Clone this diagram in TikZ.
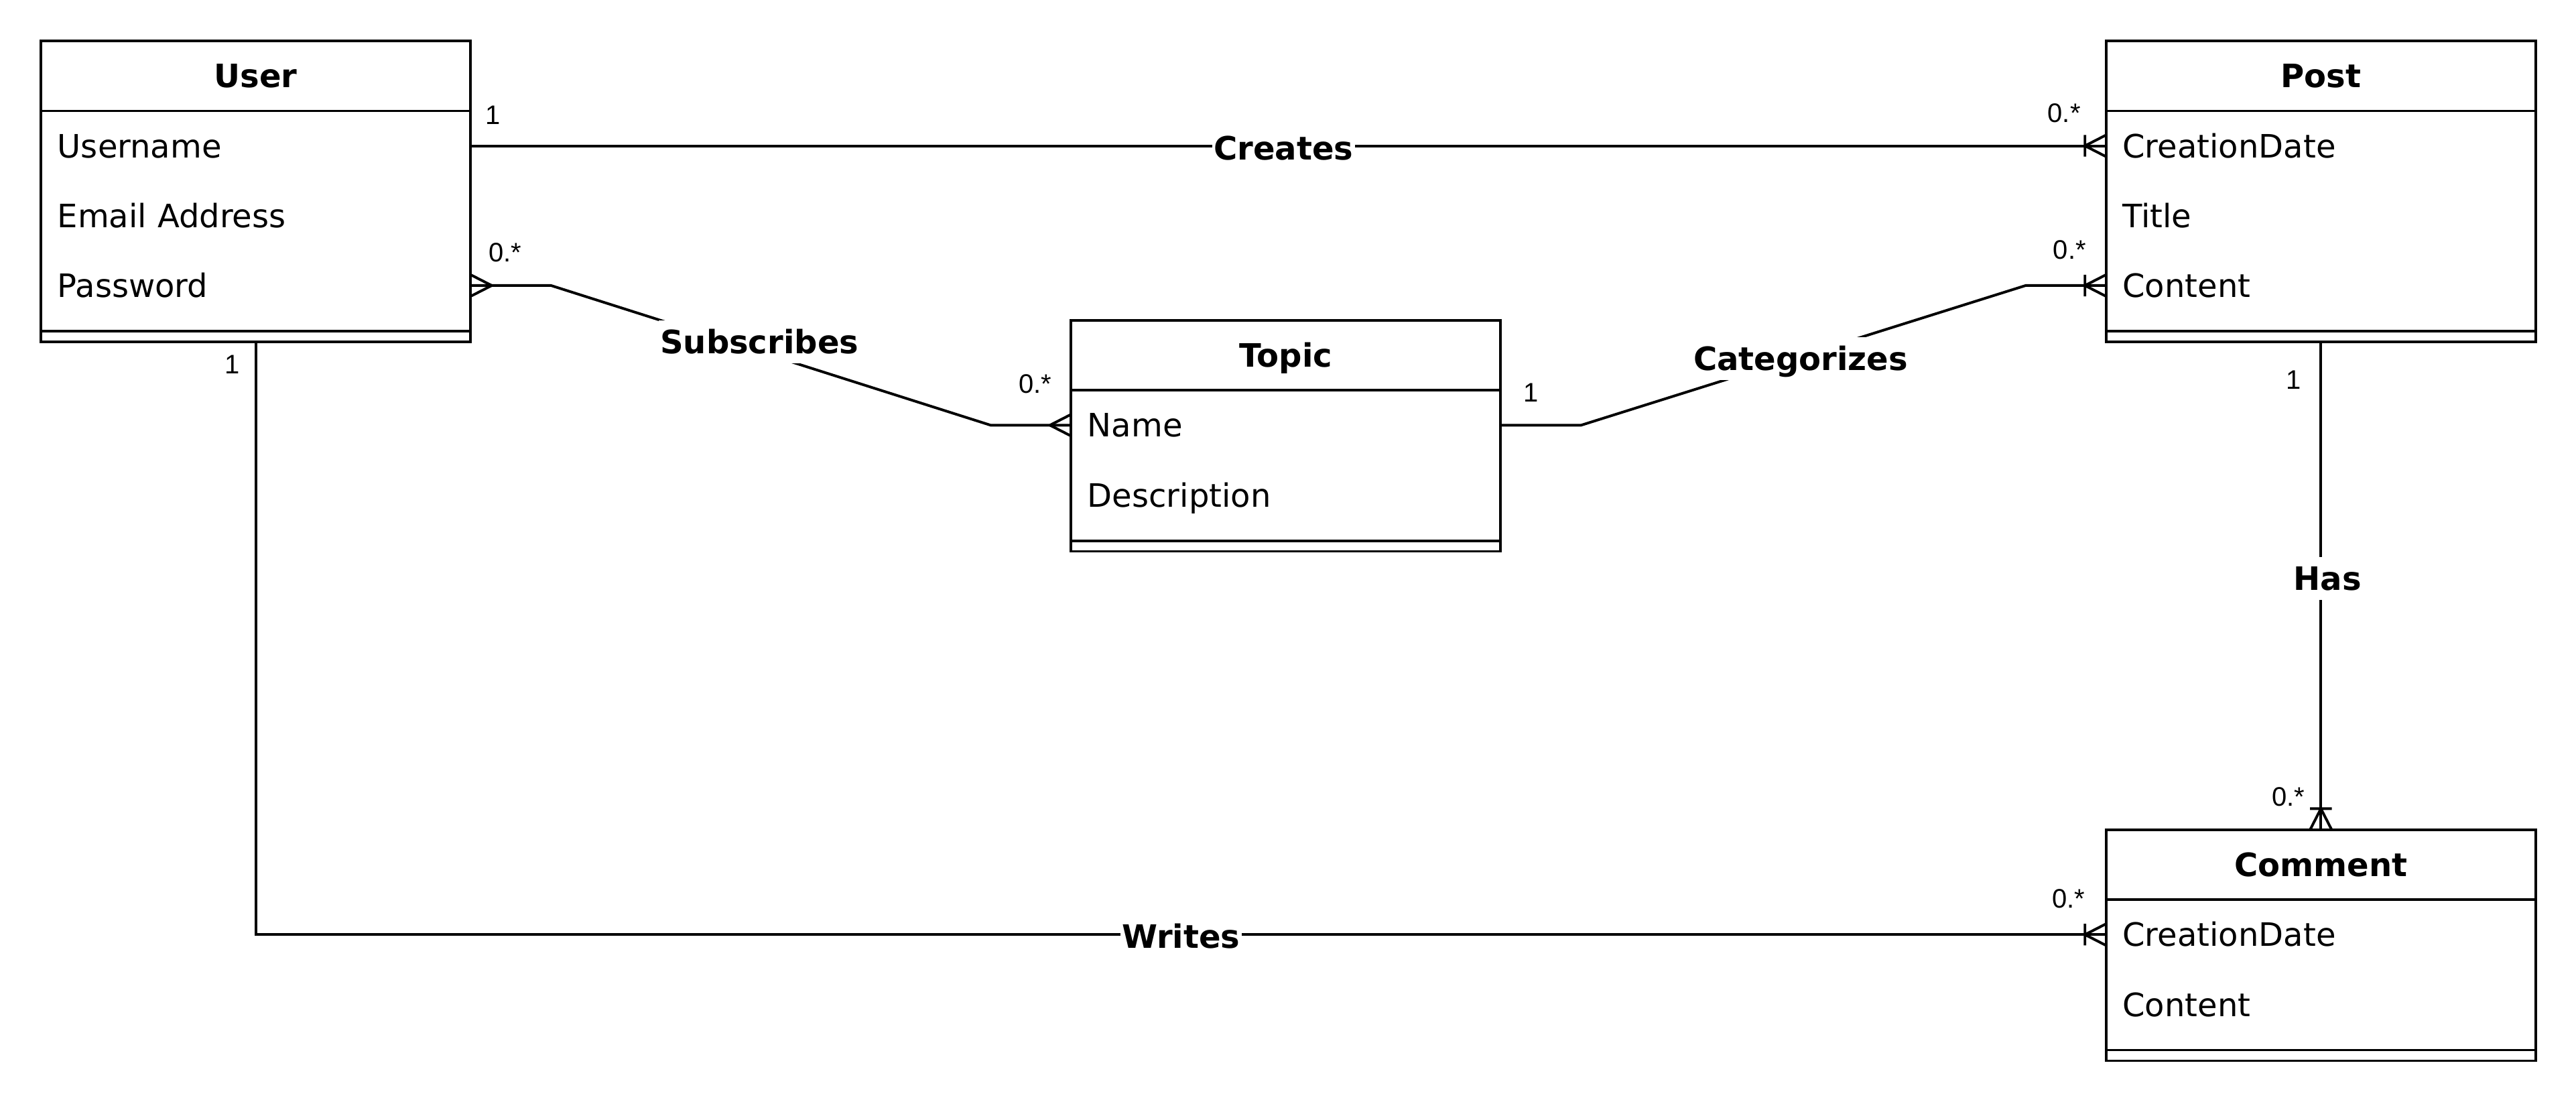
\documentclass[tikz,border=0pt]{standalone}
\usepackage{fontspec}
\setmainfont{DejaVu Sans}
\newfontfamily\multfont{Liberation Sans}
\usetikzlibrary{calc}
\tikzset{
  boxline/.style={line width=1.6pt},
  entbox/.style={draw, line width=1.6pt, anchor=north west, minimum width=261.4pt, inner sep=0pt, outer sep=0pt, fill=white},
  etitle/.style={font=\fontsize{19.6pt}{23pt}\selectfont\bfseries, anchor=center, inner sep=0pt, outer sep=0pt, text height=18.3pt, text depth=4pt},
  erow/.style={anchor=west, minimum width=261.4pt, minimum height=42.5pt, text width=241.4pt, inner xsep=10pt, inner ysep=0pt, outer sep=0pt, align=left, font=\fontsize{19.6pt}{23pt}\selectfont, text height=18.3pt, text depth=4pt},
  conn/.style={line width=1.6pt},
  rel/.style={font=\fontsize{19.6pt}{23pt}\selectfont\bfseries, fill=white, inner xsep=1pt, inner ysep=2pt, text height=18.3pt, text depth=4pt},
  mult/.style={font=\multfont\fontsize{16.3pt}{19pt}\selectfont, inner sep=0pt},
  ermany/.pic={\draw[conn] (-12.9,0) -- (0,-6.6) (-12.9,0) -- (0,6.6);},
  eronemany/.pic={\draw[conn] (-12.9,0) -- (0,-6.6) (-12.9,0) -- (0,6.6) (-12.9,-6.6) -- (-12.9,6.6);}
}
\begin{document}
\begin{tikzpicture}[x=1pt,y=-1pt]
\useasboundingbox (0,0) rectangle (1568,670.6);
\fill[white] (0,0) rectangle (1568,670.6);

% ---------- User ----------
\node[entbox, minimum height=183pt] (user) at (25,25) {};
\node[etitle] (user-t) at ($(user.north)+(0,21.25)$) {User};
\draw[boxline] ($(user.north west)+(0,42.5)$) -- ($(user.north east)+(0,42.5)$);
\node[erow] (user-r1) at ($(user.north west)+(0,63.75)$) {Username};
\node[erow] (user-r2) at ($(user.north west)+(0,106.25)$) {Email Address};
\node[erow] (user-r3) at ($(user.north west)+(0,148.75)$) {Password};
\draw[boxline] ($(user.south west)+(0,-6.5)$) -- ($(user.south east)+(0,-6.5)$);

% ---------- Post ----------
\node[entbox, minimum height=183pt] (post) at (1282,25) {};
\node[etitle] (post-t) at ($(post.north)+(0,21.25)$) {Post};
\draw[boxline] ($(post.north west)+(0,42.5)$) -- ($(post.north east)+(0,42.5)$);
\node[erow] (post-r1) at ($(post.north west)+(0,63.75)$) {CreationDate};
\node[erow] (post-r2) at ($(post.north west)+(0,106.25)$) {Title};
\node[erow] (post-r3) at ($(post.north west)+(0,148.75)$) {Content};
\draw[boxline] ($(post.south west)+(0,-6.5)$) -- ($(post.south east)+(0,-6.5)$);

% ---------- Topic ----------
\node[entbox, minimum height=140.5pt] (topic) at (652,195) {};
\node[etitle] (topic-t) at ($(topic.north)+(0,21.25)$) {Topic};
\draw[boxline] ($(topic.north west)+(0,42.5)$) -- ($(topic.north east)+(0,42.5)$);
\node[erow] (topic-r1) at ($(topic.north west)+(0,63.75)$) {Name};
\node[erow] (topic-r2) at ($(topic.north west)+(0,106.25)$) {Description};
\draw[boxline] ($(topic.south west)+(0,-6.5)$) -- ($(topic.south east)+(0,-6.5)$);

% ---------- Comment ----------
\node[entbox, minimum height=140.5pt] (comment) at (1282,505) {};
\node[etitle] (comment-t) at ($(comment.north)+(0,21.25)$) {Comment};
\draw[boxline] ($(comment.north west)+(0,42.5)$) -- ($(comment.north east)+(0,42.5)$);
\node[erow] (comment-r1) at ($(comment.north west)+(0,63.75)$) {CreationDate};
\node[erow] (comment-r2) at ($(comment.north west)+(0,106.25)$) {Content};
\draw[boxline] ($(comment.south west)+(0,-6.5)$) -- ($(comment.south east)+(0,-6.5)$);

% ---------- Creates ----------
\draw[conn] (user-r1.east) -- node[rel, pos=0.497, yshift=-1.5pt] (lcreates) {Creates} (post-r1.west);
\pic at (post-r1.west) {eronemany};

% ---------- Subscribes ----------
\coordinate (s1) at ($(user-r3.east)+(49,0)$);
\coordinate (s2) at ($(topic-r1.west)+(-49,0)$);
\draw[conn] (user-r3.east) -- (s1) -- node[rel, pos=0.474, yshift=6pt] (lsub) {Subscribes} (s2) -- (topic-r1.west);
\pic[rotate=180] at (user-r3.east) {ermany};
\pic at (topic-r1.west) {ermany};

% ---------- Categorizes ----------
\coordinate (c1) at ($(topic-r1.east)+(49,0)$);
\coordinate (c2) at ($(post-r3.west)+(-49,0)$);
\draw[conn] (topic-r1.east) -- (c1) -- node[rel, pos=0.494, yshift=-1.5pt] (lcat) {Categorizes} (c2) -- (post-r3.west);
\pic at (post-r3.west) {eronemany};

% ---------- Has ----------
\draw[conn] (post.south) -- node[rel, pos=0.485, xshift=4pt] (lhas) {Has} (comment.north);
\pic[rotate=-90] at (comment.north) {eronemany};

% ---------- Writes ----------
\coordinate (wc) at (user.south |- comment-r1.west);
\draw[conn] (user.south) -- (wc) -- node[rel, pos=0.5, yshift=-1pt] (lwrites) {Writes} (comment-r1.west);
\pic at (comment-r1.west) {eronemany};

% ---------- Multiplicities ----------
\node[mult] (m1) at (300,70) {1};
\node[mult] (m2) at (1256.4,69) {0.*};
\node[mult] (m3) at (307.6,153.6) {0.*};
\node[mult] (m4) at (630,233.5) {0.*};
\node[mult] (m5) at (932,239) {1};
\node[mult] (m6) at (1259.7,152) {0.*};
\node[mult] (m7) at (1396,231) {1};
\node[mult] (m8) at (1393,485) {0.*};
\node[mult] (m9) at (141.4,222) {1};
\node[mult] (m10) at (1259,547) {0.*};
\end{tikzpicture}
\end{document}
